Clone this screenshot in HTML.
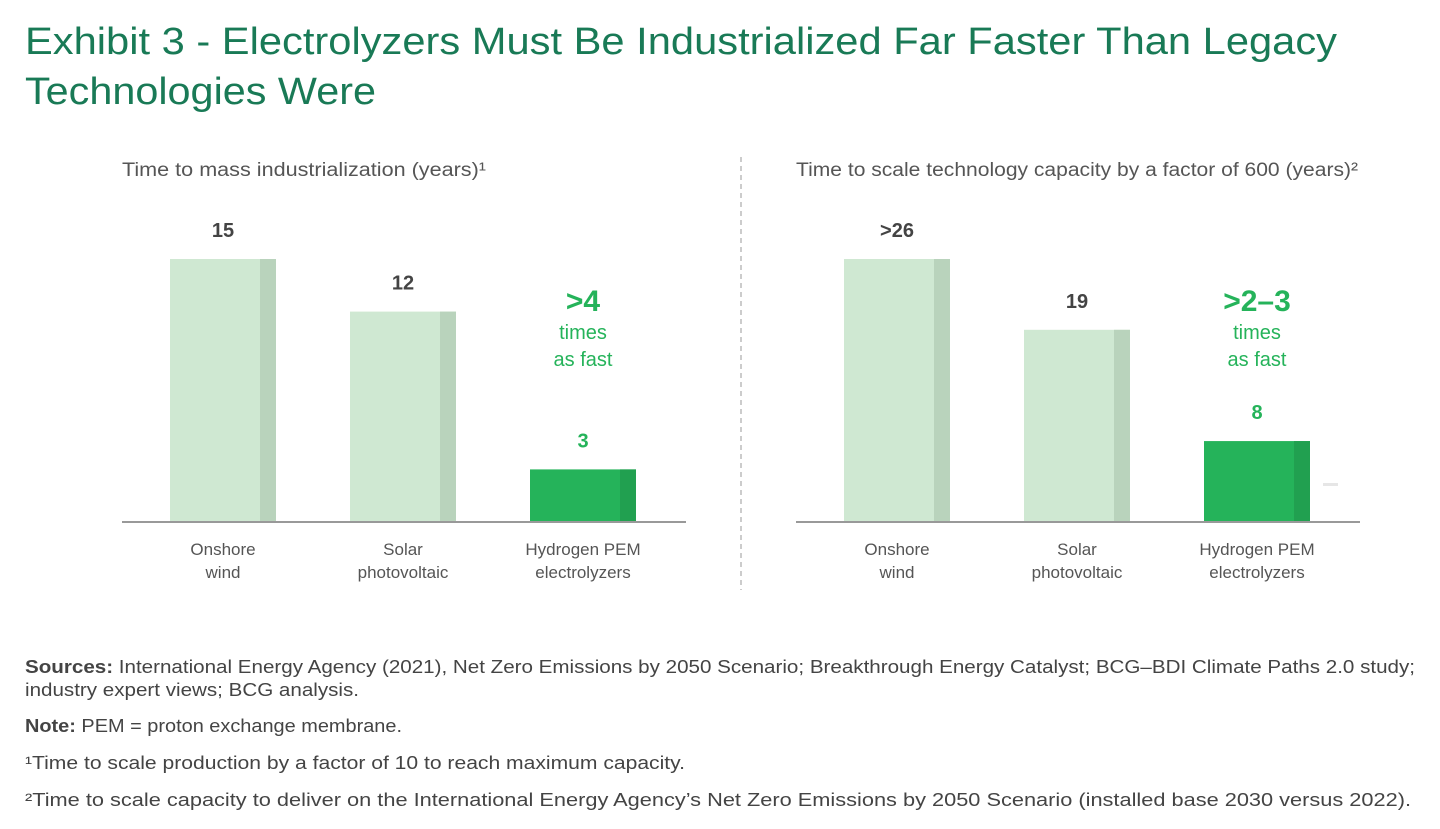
<!DOCTYPE html>
<html><head><meta charset="utf-8"><style>
html,body{margin:0;padding:0;background:#fff;}
svg{display:block;font-family:"Liberation Sans",sans-serif;}
</style></head><body>
<svg id="s" width="1440" height="829" viewBox="0 0 1440 829">
<text x="25" y="54" font-size="38" fill="#197a56" textLength="1312" lengthAdjust="spacingAndGlyphs">Exhibit 3 - Electrolyzers Must Be Industrialized Far Faster Than Legacy</text>
<text x="25" y="104" font-size="38" fill="#197a56" textLength="351" lengthAdjust="spacingAndGlyphs">Technologies Were</text>
<text x="122" y="176" font-size="19" fill="#555" textLength="364" lengthAdjust="spacingAndGlyphs">Time to mass industrialization (years)¹</text>
<text x="796" y="176" font-size="19" fill="#555" textLength="562" lengthAdjust="spacingAndGlyphs">Time to scale technology capacity by a factor of 600 (years)²</text>
<line x1="741" y1="157" x2="741" y2="590" stroke="#bbb" stroke-width="1.5" stroke-dasharray="5,4"/>
<g id="left"></g>
<g id="right"></g>
<rect x="1323" y="483" width="15" height="3" fill="#e6e6e6"/>
<g font-size="18" fill="#444">
<text x="25" y="673" textLength="1390" lengthAdjust="spacingAndGlyphs"><tspan font-weight="bold">Sources:</tspan> International Energy Agency (2021), Net Zero Emissions by 2050 Scenario; Breakthrough Energy Catalyst; BCG–BDI Climate Paths 2.0 study;</text>
<text x="25" y="696" textLength="334" lengthAdjust="spacingAndGlyphs">industry expert views; BCG analysis.</text>
<text x="25" y="732" textLength="377" lengthAdjust="spacingAndGlyphs"><tspan font-weight="bold">Note:</tspan> PEM = proton exchange membrane.</text>
<text x="25" y="769" textLength="660" lengthAdjust="spacingAndGlyphs">¹Time to scale production by a factor of 10 to reach maximum capacity.</text>
<text x="25" y="806" textLength="1386" lengthAdjust="spacingAndGlyphs">²Time to scale capacity to deliver on the International Energy Agency’s Net Zero Emissions by 2050 Scenario (installed base 2030 versus 2022).</text>
</g>
</svg>
<script>
const categories = ["Onshore|wind", "Solar|photovoltaic", "Hydrogen PEM|electrolyzers"];
const leftValues = [15, 12, 3];
const leftLabels = ["15", "12", "3"];
const rightValues = [26, 19, 8];
const rightLabels = [">26", "19", "8"];
const leftCallout = [">4", "times", "as fast"];
const rightCallout = [">2–3", "times", "as fast"];
const NS = "http://www.w3.org/2000/svg";
function mk(p, tag, attrs, txt){const e=document.createElementNS(NS,tag);for(const k in attrs)e.setAttribute(k,attrs[k]);if(txt!=null)e.textContent=txt;p.appendChild(e);return e;}
function draw(gid, x0, values, labels, callout, pxPerUnit){
  const g=document.getElementById(gid);
  const base=522;
  const y=v=>base-v*pxPerUnit;
  values.forEach((v,i)=>{
    const bx=x0+48+i*180, w=106;
    const hi=i===2;
    const r=mk(g,'rect',{x:bx,y:y(v),width:w,height:base-y(v),fill:hi?'#25b35a':'#cfe8d2'});
    
    
    mk(g,'rect',{x:bx+w-16,y:y(v),width:16,height:base-y(v),fill:hi?'#21a050':'#b9d3bc'});
    const t=mk(g,'text',{x:bx+w/2,y:y(v)-22,'text-anchor':'middle','font-size':20,'font-weight':'bold',fill:hi?'#25b35a':'#444'},labels[i]);
    
    
    const parts=categories[i].split('|');
    parts.forEach((p,j)=>{const c=mk(g,'text',{x:bx+w/2,y:555+j*23,'text-anchor':'middle','font-size':17,fill:'#555'},p);
      
      });
  });
  const ax=mk(g,'line',{x1:x0,x2:x0+564,y1:base,y2:base,stroke:'#999','stroke-width':2});
  
  
  const cx=x0+48+360+53;
  const c1=mk(g,'text',{x:cx,y:311,'text-anchor':'middle','font-size':30,'font-weight':'bold',fill:'#25b35a'},callout[0]);
  
  
  mk(g,'text',{x:cx,y:339,'text-anchor':'middle','font-size':20,fill:'#25b35a'},callout[1]);
  mk(g,'text',{x:cx,y:366,'text-anchor':'middle','font-size':20,fill:'#25b35a'},callout[2]);
}
draw('left',122,leftValues,leftLabels,leftCallout,263/15);
draw('right',796,rightValues,rightLabels,rightCallout,263/26);
</script>
</body></html>
